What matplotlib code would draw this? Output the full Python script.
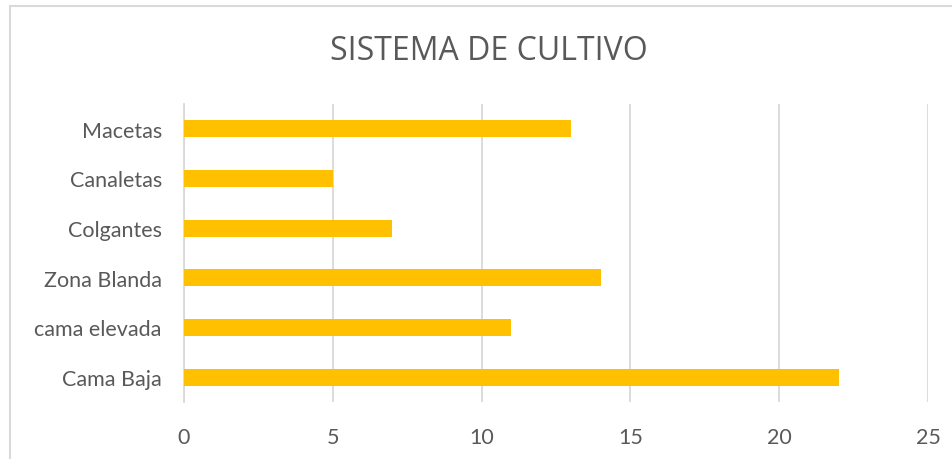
import matplotlib.pyplot as plt
from matplotlib.patches import Rectangle

categorias = ["Cama Baja", "cama elevada", "Zona Blanda", "Colgantes", "Canaletas", "Macetas"]
valores = [22, 11, 14, 7, 5, 13]
ticks_x = [0, 5, 10, 15, 20, 25]

plt.rcParams['font.family'] = ['Lato', 'DejaVu Sans']

fig = plt.figure(figsize=(9.53, 4.6), dpi=100)
ax = fig.add_axes([0.1931, 0.1239, 0.7807, 0.648])

ax.barh(range(len(categorias)), valores, height=0.34, color="#FFC000", zorder=3)
ax.set_xlim(0, 25)
ax.set_ylim(-0.5, len(categorias) - 0.5)
ax.set_xticks(ticks_x)
ax.set_yticks(range(len(categorias)))
ax.set_yticklabels(categorias)
ax.grid(axis="x", color="#D9D9D9", linewidth=1.3, zorder=0)
ax.tick_params(length=0, labelsize=15.5, colors="#595959")
ax.tick_params(axis="x", pad=18)
ax.tick_params(axis="y", pad=16)
for s in ["top", "right", "bottom"]:
    ax.spines[s].set_visible(False)
ax.spines["left"].set_color("#D9D9D9")
ax.spines["left"].set_linewidth(1.3)

fig.text(0.513, 0.888, "SISTEMA DE CULTIVO", ha="center", va="center",
         fontsize=23, color="#595959", family=["Open Sans", "DejaVu Sans"])

# borde del grafico
fig.patches.append(Rectangle((0.011, -0.05), 1.2, 1.035, transform=fig.transFigure,
                             fill=False, edgecolor="#D9D9D9", linewidth=1.5))

fig.savefig("out.png", dpi=100)
